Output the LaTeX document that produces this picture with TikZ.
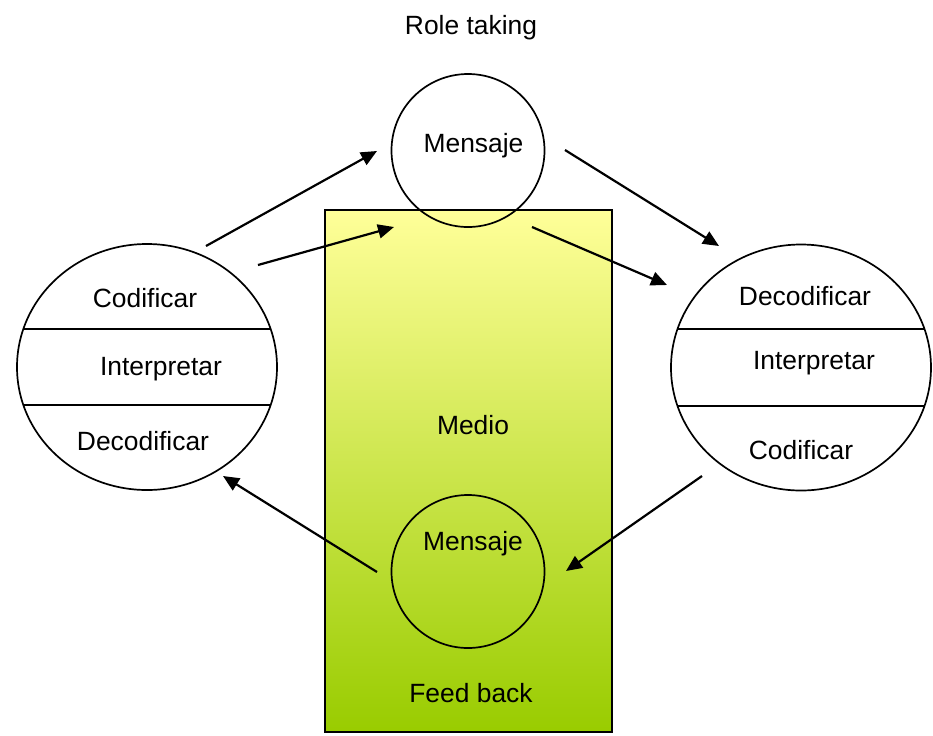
\documentclass[tikz,border=0pt]{standalone}
\usepackage{fontspec}
\setmainfont{Liberation Sans}
\usetikzlibrary{arrows.meta,shapes.geometric}
\definecolor{medtop}{RGB}{255,255,153}
\definecolor{medbot}{RGB}{153,204,0}
\begin{document}
\begin{tikzpicture}[x=0.5pt,y=-0.5pt,
  lbl/.style={font=\fontsize{13.2}{15}\selectfont, inner sep=0pt, anchor=base},
  msgcircle/.style={circle, draw, line width=0.85pt, minimum size=76.5pt, inner sep=0pt},
  oval/.style={ellipse, draw, line width=0.85pt, minimum width=130pt, minimum height=123pt, inner sep=0pt},
  chord/.style={line width=0.85pt},
  flow/.style={line width=1.1pt, -{Triangle[length=8pt,width=7pt]}}]
\useasboundingbox (0,0) rectangle (933,735);
% medium rectangle
\shade[top color=medtop, bottom color=medbot] (325,210) rectangle (612,732);
\draw[line width=0.85pt] (325,210) rectangle (612,732);
% message circles
\node[msgcircle] (mtop) at (468,150.5) {};
\node[msgcircle] (mbot) at (468,571.5) {};
% ovals
\node[oval] (L) at (147,367) {};
\node[oval] (R) at (801,367.5) {};
\draw[chord] (23.4,329) -- (270.6,329);
\draw[chord] (23.4,405) -- (270.6,405);
\draw[chord] (677.5,329) -- (924.5,329);
\draw[chord] (677.5,406) -- (924.5,406);
% texts
\node[lbl] (title) at (471,34) {Role taking};
\node[lbl] (mtopt) at (473.5,152) {Mensaje};
\node[lbl] (mbott) at (473,550) {Mensaje};
\node[lbl] (medio) at (473,434) {Medio};
\node[lbl] (feed) at (471,702) {Feed back};
\node[lbl] (lc) at (145,307) {Codificar};
\node[lbl] (li) at (161,375) {Interpretar};
\node[lbl] (ld) at (143,450) {Decodificar};
\node[lbl] (rd) at (805,305) {Decodificar};
\node[lbl] (ri) at (814,369) {Interpretar};
\node[lbl] (rc) at (801,459) {Codificar};
% arrow end points
\coordinate (a1s) at (206,246); \coordinate (a1e) at (377,151);
\coordinate (a2s) at (258,265); \coordinate (a2e) at (394,227);
\coordinate (a3s) at (565,150); \coordinate (a3e) at (719,246);
\coordinate (a4s) at (532,227); \coordinate (a4e) at (667,285);
\coordinate (a5s) at (702,476); \coordinate (a5e) at (566,571);
\coordinate (a6s) at (377,572); \coordinate (a6e) at (223,476);
\draw[flow] (a1s) -- (a1e);
\draw[flow] (a2s) -- (a2e);
\draw[flow] (a3s) -- (a3e);
\draw[flow] (a4s) -- (a4e);
\draw[flow] (a5s) -- (a5e);
\draw[flow] (a6s) -- (a6e);
\end{tikzpicture}
\end{document}
